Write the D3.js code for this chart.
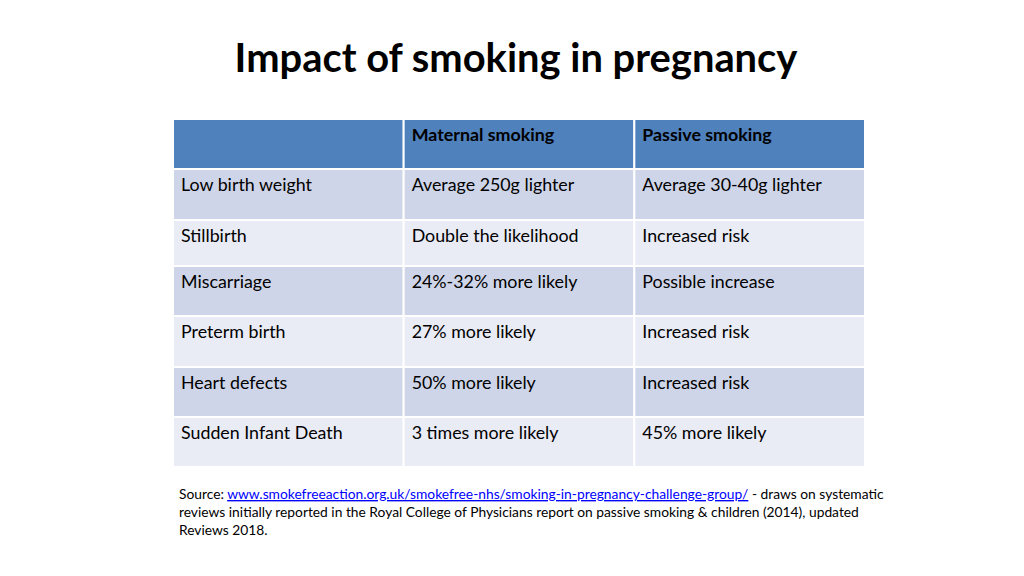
<!DOCTYPE html>
<html><head><meta charset="utf-8">
<script src="https://cdn.jsdelivr.net/npm/d3@7"></script>
<style>body{margin:0;background:#fff}svg{display:block}</style>
</head><body>
<script>
const title = "Impact of smoking in pregnancy";
const columns = ["", "Maternal smoking", "Passive smoking"];
const outcomes = ["Low birth weight","Stillbirth","Miscarriage","Preterm birth","Heart defects","Sudden Infant Death"];
const maternal = ["Average 250g lighter","Double the likelihood","24%-32% more likely","27% more likely","50% more likely","3 times more likely"];
const passive = ["Average 30-40g lighter","Increased risk","Possible increase","Increased risk","Increased risk","45% more likely"];
const sourceLink = "www.smokefreeaction.org.uk/smokefree-nhs/smoking-in-pregnancy-challenge-group/";
const sourceLines = ["reviews initially reported in the Royal College of Physicians report on passive smoking & children (2014), updated","Reviews 2018."];

const W=1024,H=576, FONT="Lato, 'Open Sans', sans-serif";
const svg=d3.select("body").append("svg").attr("width",W).attr("height",H);

function fit(sel,target){const n=sel.node();const w=n.getComputedTextLength();const fs=parseFloat(sel.attr("font-size"));sel.attr("font-size",fs*target/w);}

// title
const t=svg.append("text").attr("x",W/2+4).attr("y",72).attr("text-anchor","middle")
 .attr("font-family",FONT).attr("font-weight","bold").attr("font-size",40).attr("fill","#000").text(title);
fit(t,563);

// table
const rows=["header",...outcomes];
const rowEdges=[119,169,220,266,316,367,417,467];
const x=d3.scaleBand().domain(columns.map((c,i)=>i)).range([173,865]).paddingInner(0);
const y=d3.scaleOrdinal().domain(rows).range(rowEdges.slice(0,-1));
const hgt=d3.scaleOrdinal().domain(rows).range(rowEdges.slice(1).map((v,i)=>v-rowEdges[i]));

const data=[];
rows.forEach((r,ri)=>{
  const vals = ri===0?columns:[outcomes[ri-1],maternal[ri-1],passive[ri-1]];
  vals.forEach((v,ci)=>data.push({r,ri,ci,v}));
});
const fills=ri=>ri===0?"#4f81bd":(ri%2===1?"#cfd5e8":"#e9ebf5");
svg.append("g").selectAll("rect").data(data).join("rect")
 .attr("x",d=>x(d.ci)).attr("y",d=>y(d.r)).attr("width",x.bandwidth()).attr("height",d=>hgt(d.r))
 .attr("fill",d=>fills(d.ri)).attr("stroke","#fff").attr("stroke-width",2);

const txt=svg.append("g").selectAll("text").data(data.filter(d=>d.v)).join("text")
 .attr("x",d=>x(d.ci)+8).attr("y",d=>y(d.r)+22)
 .attr("font-family",FONT).attr("font-size",17).attr("fill","#000")
 .attr("font-weight",d=>d.ri===0?"bold":"normal").text(d=>d.v);
const probe=txt.filter(d=>d.v==="Low birth weight");
const fs0=17*131/probe.node().getComputedTextLength();
txt.attr("font-size",fs0);

// source
const s=svg.append("text").attr("x",179).attr("y",499).attr("font-family",FONT).attr("font-size",13).attr("fill","#000");
s.append("tspan").text("Source: ");
s.append("tspan").attr("fill","#0000ff").attr("text-decoration","underline").text(sourceLink);
s.append("tspan").text(" - draws on systematic");
fit(s,705);
const sfs=s.attr("font-size");
sourceLines.forEach((l,i)=>svg.append("text").attr("x",179).attr("y",517+i*18).attr("font-family",FONT).attr("font-size",sfs).attr("fill","#000").text(l));
</script>
</body></html>
